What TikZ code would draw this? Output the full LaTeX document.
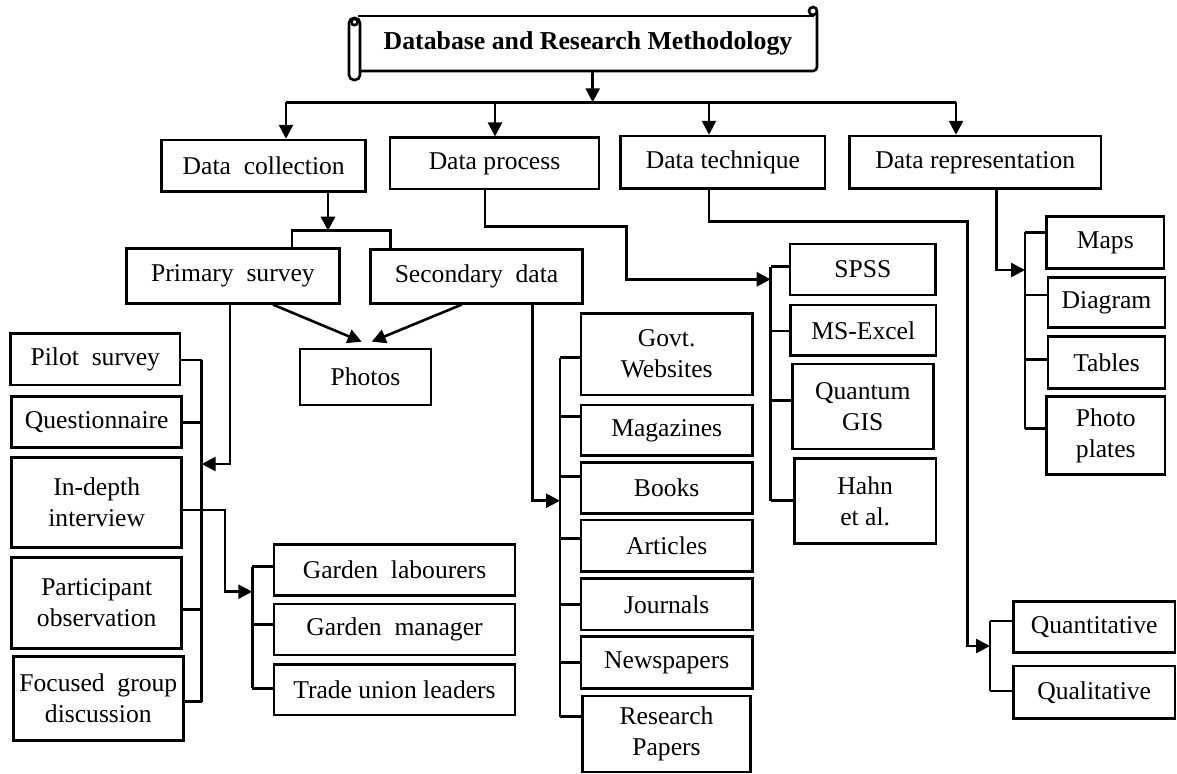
\documentclass[tikz,border=0pt]{standalone}
\usepackage{fontspec}
\setmainfont{Liberation Serif}
\usetikzlibrary{arrows.meta}

\tikzset{
  box/.style={draw, line width=1.3pt, align=center, inner sep=1pt,
    font=\fontsize{12.8}{15.5}\selectfont},
  wh/.style 2 args={minimum width=#1*0.5pt, minimum height=#2*0.5pt},
  arr/.style={-{Triangle[length=7pt,width=7pt]}},
}

\begin{document}
\begin{tikzpicture}[x=0.5pt, y=-0.5pt, line width=1.3pt]
\useasboundingbox (0,0) rectangle (1177,773);

% title scroll
\node[font=\fontsize{12.9}{15}\selectfont\bfseries, wh={457}{55}, inner sep=0] (title) at (588,43) {Database and Research Methodology};
\draw[rounded corners=2.5pt] (349,18) rectangle (360,80);
\draw (354.5,22) circle (1.6pt);
\draw (358,16) -- (814,16);
\draw[rounded corners=2pt] (360,71) -- (817,71) -- (817,12);
\draw (813,11) circle (2pt);

% first level
\node[box, wh={204}{51.7}] (dc) at (263.7,165.9) {Data\ \ collection};
\node[box, wh={209}{51.3}] (dp) at (494.5,163.4) {Data process};
\node[box, wh={204.3}{52.7}] (dt) at (722.9,162.4) {Data technique};
\node[box, wh={251.7}{52.7}] (dr) at (975.2,162.4) {Data representation};

\coordinate (bus) at (592.7,102.3);
\coordinate (b1) at (286,102.3);
\coordinate (b2) at (495,102.3);
\coordinate (b3) at (709,102.3);
\coordinate (b4) at (956,102.3);
\draw[arr] (title.south -| bus) -- (bus);
\draw (b1) -- (b4);
\foreach \c/\n in {b1/dc, b2/dp, b3/dt, b4/dr}
  \draw[arr] (\c) -- (\c |- \n.north);

% data collection
\node[box, wh={212.6}{54.6}] (ps) at (233,276) {Primary\ \ survey};
\node[box, wh={211.6}{54}] (sd) at (476.5,276.3) {Secondary\ \ data};
\node[box, wh={131}{56}] (ph) at (365.5,377) {Photos};

\coordinate (c1) at (328,230.7);
\draw[arr] (dc.south -| c1) -- (c1);
\draw (ps.north -| 292,0) |- (c1) -| (sd.north -| 390.7,0);
\draw[arr] (ps.south -| 273,0) -- ([shift={(-3.8,-6)}]ph.north);
\draw[arr] (sd.south -| 461.7,0) -- ([shift={(6.2,-6)}]ph.north);

% primary survey
\node[box, wh={169.3}{51.7}] (pil) at (95.3,359.2) {Pilot\ \ survey};
\node[box, wh={170}{51}] (que) at (96.7,422.2) {Questionnaire};
\node[box, wh={170}{90.4}] (idi) at (96.7,502.5) {In-depth\\interview};
\node[box, wh={170}{90.6}] (pob) at (96.7,603) {Participant\\observation};
\node[box, wh={170}{84}] (fgd) at (98.3,698.7) {Focused\ \ group\\discussion};

\coordinate (lb) at (201.7,360);
\draw (lb) -- (lb |- 0,701.7);
\foreach \n/\y in {pil/360, que/422.3, idi/510, pob/609.3, fgd/701.7}
  \draw (\n.east |- 0,\y) -- (lb |- 0,\y);
\draw[arr] (ps.south -| 230,0) |- (lb |- 0,464);

% in-depth interview
\node[box, wh={241}{51.4}] (gl) at (394.5,570) {Garden\ \ labourers};
\node[box, wh={241}{51}] (gm) at (394.5,629.5) {Garden\ \ manager};
\node[box, wh={241}{50.7}] (tu) at (394.5,689.7) {Trade union leaders};

\coordinate (gb) at (252.3,566.7);
\draw (gb) -- (gb |- 0,688.3);
\foreach \n/\y in {gl/566.7, gm/624.3, tu/688.3}
  \draw (\n.west |- 0,\y) -- (gb |- 0,\y);
\draw[arr] (idi.east |- 0,510) -| (225,591.7) -- (gb |- 0,591.7);

% secondary data
\node[box, wh={171.3}{81.7}] (gov) at (666.7,354.2) {Govt.\\Websites};
\node[box, wh={171.3}{50.7}] (mag) at (666.7,430.4) {Magazines};
\node[box, wh={171.3}{50.6}] (boo) at (666.7,488) {Books};
\node[box, wh={171.3}{51.7}] (art) at (666.7,545.8) {Articles};
\node[box, wh={171.3}{51.3}] (jou) at (666.7,604.3) {Journals};
\node[box, wh={171.3}{51.6}] (new) at (666.7,662.5) {Newspapers};
\node[box, wh={168.4}{76}] (rp) at (666.5,734) {Research\\Papers};

\coordinate (sb) at (560,357.7);
\draw (sb) -- (sb |- 0,716.7);
\foreach \n/\y in {gov/357.7, mag/416.7, boo/476.7, art/538.3, jou/604.3, new/662.3, rp/716.7}
  \draw (\n.west |- 0,\y) -- (sb |- 0,\y);
\draw[arr] (sd.south -| 532.3,0) |- (sb |- 0,500.7);

% data process
\node[box, wh={145.7}{51}] (sps) at (862.9,269.5) {SPSS};
\node[box, wh={145.3}{50.7}] (mse) at (863.3,330.4) {MS-Excel};
\node[box, wh={141}{85}] (qgi) at (862.8,406.5) {Quantum\\GIS};
\node[box, wh={141.7}{84.6}] (hah) at (865.2,501) {Hahn\\et al.};

\coordinate (tb) at (770.7,266.7);
\draw (tb) -- (tb |- 0,500.7);
\foreach \n/\y in {sps/266.7, mse/331, qgi/400.7, hah/500.7}
  \draw (\n.west |- 0,\y) -- (tb |- 0,\y);
\draw[arr] (dp.south -| 485,0) |- (626.7,226.7) |- (tb |- 0,279.3);

% data technique
\node[box, wh={161.7}{51}] (qnt) at (1094.2,627.2) {Quantitative};
\node[box, wh={161.7}{52.3}] (qlt) at (1094.2,692.2) {Qualitative};

\coordinate (qb) at (990,620.7);
\draw (qb) -- (qb |- 0,691);
\foreach \n/\y in {qnt/621, qlt/691}
  \draw (\n.west |- 0,\y) -- (qb |- 0,\y);
\draw[arr] (dt.south -| 709,0) |- (967.7,221.7) |- (qb |- 0,646);

% data representation
\node[box, wh={117.3}{51.6}] (map) at (1105.3,242.5) {Maps};
\node[box, wh={117}{50.4}] (dia) at (1106.5,302.5) {Diagram};
\node[box, wh={117}{51.6}] (tab) at (1106.5,362.5) {Tables};
\node[box, wh={118.3}{77.6}] (pp) at (1105.8,435.5) {Photo\\plates};

\coordinate (rb) at (1025,232.3);
\draw (rb) -- (rb |- 0,428.7);
\foreach \n/\y in {map/232.3, dia/295, tab/359.3, pp/428.7}
  \draw (\n.west |- 0,\y) -- (rb |- 0,\y);
\draw[arr] (dr.south -| 996.7,0) |- (rb |- 0,270);
\end{tikzpicture}
\end{document}
